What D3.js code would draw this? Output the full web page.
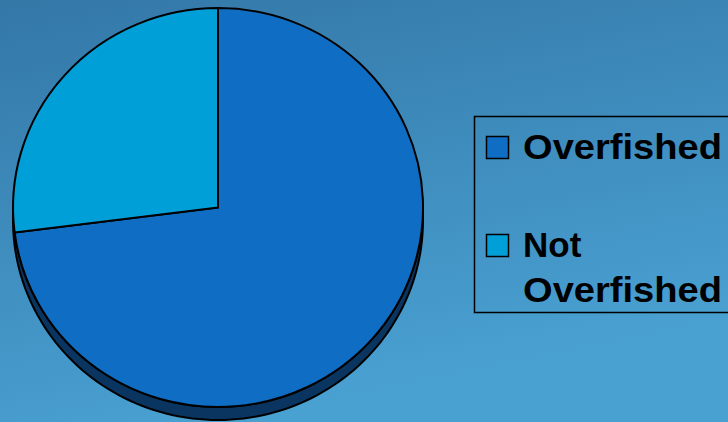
<!DOCTYPE html>
<html><head><meta charset="utf-8">
<script src="https://cdn.jsdelivr.net/npm/d3@7"></script>
<style>html,body{margin:0;padding:0;overflow:hidden;}svg{display:block;}</style>
</head><body>
<svg id="chart" width="728" height="422"></svg>
<script>
const categories = ["Overfished", "Not Overfished"];
const values = [73, 27];
const colors = ["#0F6EC4", "#009FD8"];
const legendLines = [["Overfished"], ["Not", "Overfished"]];

const svg = d3.select("#chart");
const defs = svg.append("defs");
const grad = defs.append("linearGradient").attr("id","bg")
  .attr("x1","0").attr("y1","0").attr("x2","0.35").attr("y2","1");
grad.append("stop").attr("offset","0").attr("stop-color","#3377A7");
grad.append("stop").attr("offset","1").attr("stop-color","#49A1D2");
svg.append("rect").attr("width",728).attr("height",422).attr("fill","url(#bg)");

const cx = 218, cy = 207.5, rx = 205, ry = 199.5, depth = 13;

// side of the pie (3D rim)
const sx = t => cx + rx*Math.cos(t), sy = t => cy + ry*Math.sin(t);
let p = d3.path();
p.moveTo(cx - rx, cy);
p.lineTo(cx - rx, cy + depth);
for (let i = 0; i <= 100; i++) { const t = Math.PI - Math.PI*i/100; p.lineTo(sx(t), sy(t) + depth); }
p.lineTo(cx + rx, cy);
for (let i = 0; i <= 100; i++) { const t = Math.PI*i/100; p.lineTo(sx(t), sy(t)); }
p.closePath();
svg.append("path").attr("d", p.toString()).attr("fill","#0A3560")
  .attr("stroke","#000").attr("stroke-width",2).attr("stroke-linejoin","round");

const pie = d3.pie().sort(null).startAngle(0).endAngle(2*Math.PI)(values);
const arc = d3.arc().innerRadius(0).outerRadius(1);
svg.append("g").attr("transform",`translate(${cx},${cy}) scale(${rx},${ry})`)
  .selectAll("path").data(pie).join("path")
  .attr("d", arc).attr("fill",(d,i)=>colors[i])
  .attr("stroke","#000").attr("stroke-width",2)
  .attr("vector-effect","non-scaling-stroke").attr("stroke-linejoin","round");

// legend
const lg = svg.append("g");
lg.append("rect").attr("x",474.5).attr("y",116.5).attr("width",270).attr("height",196)
  .attr("fill","none").attr("stroke","#000").attr("stroke-width",1.5);
const rowY = [136, 234];
categories.forEach((c,i)=>{
  lg.append("rect").attr("x",486.5).attr("y",rowY[i]+0.5).attr("width",22).attr("height",22)
    .attr("fill",colors[i]).attr("stroke","#000").attr("stroke-width",1.5);
  const t = lg.append("text").attr("x",523).attr("y",rowY[i]+23)
    .attr("font-family","Liberation Sans, Arial, sans-serif").attr("font-weight","bold")
    .attr("font-size",35).attr("fill","#000");
  legendLines[i].forEach((ln,j)=>{
    const ts = t.append("tspan").attr("x",523).attr("dy", j===0?0:45).text(ln);
    if (ln === "Overfished") ts.attr("textLength",199).attr("lengthAdjust","spacingAndGlyphs");
  });
});
</script>
</body></html>
